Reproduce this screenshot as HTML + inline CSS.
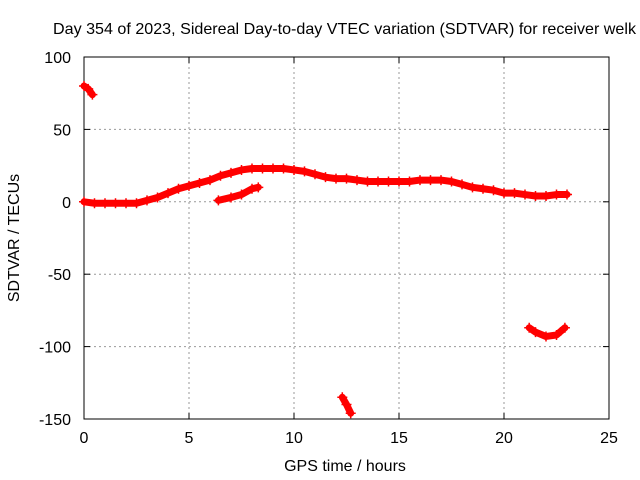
<!DOCTYPE html>
<html><head><meta charset="utf-8"><style>
body{margin:0;background:#fff}
svg{display:block;font-family:"Liberation Sans",sans-serif}
</style></head><body>
<svg id="chart" width="640" height="480">
<rect width="640" height="480" fill="#fff"/>
<text x="53" y="34" font-size="16" textLength="583" lengthAdjust="spacingAndGlyphs">Day 354 of 2023, Sidereal Day-to-day VTEC variation (SDTVAR) for receiver welk</text>
<g id="grid"></g><g id="axes"></g><g id="marks"></g>
<text x="345" y="471" font-size="16" text-anchor="middle">GPS time / hours</text>
<text transform="translate(19,238) rotate(-90)" font-size="16" text-anchor="middle">SDTVAR / TECUs</text>
</svg>
<script>
const xTicks=[0,5,10,15,20,25];
const yTicks=[100,50,0,-50,-100,-150];
const mainT=[0,0.5,1,1.5,2,2.5,3,3.5,4,4.5,5,5.5,6,6.5,7,7.5,8,8.5,9,9.5,10,10.5,11,11.5,12,12.5,13,13.5,14,14.5,15,15.5,16,16.5,17,17.5,18,18.5,19,19.5,20,20.5,21,21.5,22,22.5,23];
const mainV=[0,-1,-1,-1,-1,-1,1,3,6,9,11,13,15,18,20,22,23,23,23,23,22,21,19,17,16,16,15,14,14,14,14,14,15,15,15,14,12,10,9,8,6,6,5,4,4,5,5];
const seg2T=[6.4,7,7.5,8,8.3];
const seg2V=[1,3,5,9,10];
const seg3T=[0,0.2,0.4];
const seg3V=[80,78,74];
const seg4T=[12.3,12.5,12.7];
const seg4V=[-135,-140,-146];
const seg5T=[21.2,21.5,22,22.5,22.9];
const seg5V=[-87,-90,-93,-92,-87];
const NS="http://www.w3.org/2000/svg";
const X0=84,X1=609,Y0=57,Y1=419;
const xs=t=>X0+(t-0)/(25-0)*(X1-X0);
const ys=v=>Y1-(v+150)/250*(Y1-Y0);
function mk(tag,attrs,parent){const e=document.createElementNS(NS,tag);for(const k in attrs)e.setAttribute(k,attrs[k]);parent.appendChild(e);return e;}
const grid=document.getElementById('grid'),axes=document.getElementById('axes'),marks=document.getElementById('marks');
xTicks.forEach(t=>{
 if(t>0&&t<25){const g=mk('line',{x1:xs(t),x2:xs(t),y1:Y0,y2:Y1,stroke:'#999','stroke-dasharray':'2,3','stroke-width':1},grid);
 
 }
 mk('line',{x1:xs(t),x2:xs(t),y1:Y1,y2:Y1-6,stroke:'#000'},axes);
 mk('line',{x1:xs(t),x2:xs(t),y1:Y0,y2:Y0+6,stroke:'#000'},axes);
 const l=mk('text',{x:xs(t),y:Y1+24,'font-size':16,'text-anchor':'middle'},axes);l.textContent=t;
 
 
});
yTicks.forEach(v=>{
 if(v<100&&v>-150){const g=mk('line',{x1:X0,x2:X1,y1:ys(v),y2:ys(v),stroke:'#999','stroke-dasharray':'2,3','stroke-width':1},grid);
 
 }
 mk('line',{x1:X0,x2:X0+6,y1:ys(v),y2:ys(v),stroke:'#000'},axes);
 mk('line',{x1:X1,x2:X1-6,y1:ys(v),y2:ys(v),stroke:'#000'},axes);
 const l=mk('text',{x:X0-13,y:ys(v)+6,'font-size':16,'text-anchor':'end'},axes);l.textContent=v;
 
 
});
const fr=mk('rect',{x:X0,y:Y0,width:X1-X0,height:Y1-Y0,fill:'none',stroke:'#000'},axes);


function series(T,V,name){
 const g=mk('g',{},marks);
 
 
 mk('polyline',{points:T.map((t,i)=>xs(t)+','+ys(V[i])).join(' '),fill:'none',stroke:'#f00','stroke-width':7,'stroke-linejoin':'round','stroke-linecap':'round'},g);
 T.forEach((t,i)=>{const x=xs(t),y=ys(V[i]);
  mk('path',{d:`M${x-5},${y}H${x+5}M${x},${y-5}V${y+5}`,stroke:'#f00','stroke-width':1.5},g);});
}
series(mainT,mainV,'series-main');
series(seg2T,seg2V,'series-arc-2');
series(seg3T,seg3V,'series-arc-3');
series(seg4T,seg4V,'series-arc-4');
series(seg5T,seg5V,'series-arc-5');
</script>
</body></html>
